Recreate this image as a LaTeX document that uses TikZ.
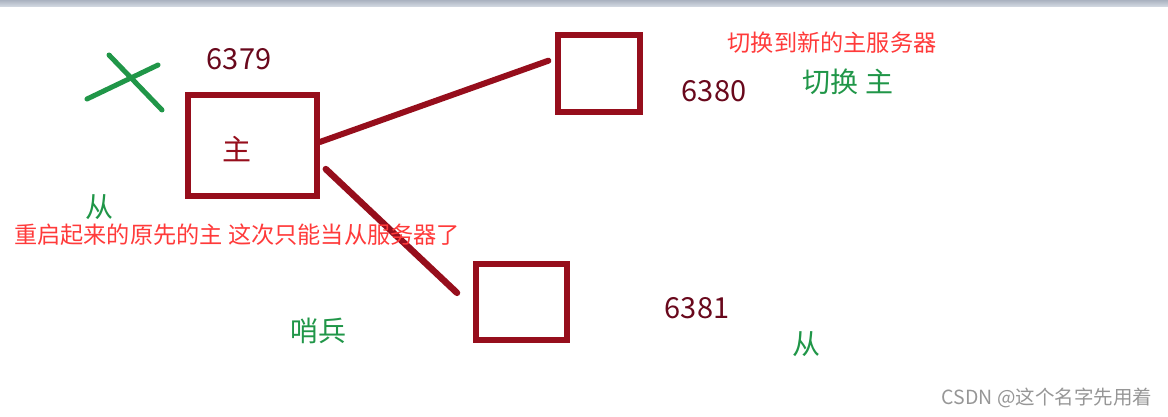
\documentclass[tikz,border=0pt]{standalone}
\usepackage{fontspec}
\setmainfont{Noto Sans CJK SC}
\definecolor{boxred}{RGB}{150,14,28}
\definecolor{portred}{RGB}{105,8,28}
\definecolor{notered}{RGB}{255,58,58}
\definecolor{markgreen}{RGB}{32,150,72}
\definecolor{markgrey}{RGB}{150,150,150}
\definecolor{barhigh}{RGB}{170,178,192}
\definecolor{barlow}{RGB}{214,220,228}
\tikzset{
  box/.style={draw=boxred, line width=6pt, inner sep=0pt},
  link/.style={draw=boxred, line width=6pt, line cap=round},
  port/.style={text=portred, inner sep=0pt, font=\fontsize{29}{32}\selectfont},
  note/.style={text=notered, inner sep=0pt, font=\fontsize{23.2}{27}\selectfont},
  tag/.style={text=markgreen, inner sep=0pt, font=\fontsize{28}{32}\selectfont},
}
\begin{document}
\begin{tikzpicture}[x=1pt,y=-1pt]
    \useasboundingbox (0,0) rectangle (1168,417);
    \fill[top color=barhigh, bottom color=barlow] (0,0) rectangle (1168,7);
    % servers
    \node[box, minimum width=129pt, minimum height=101pt] (m) at (252.5,145.5) {};
    \node[box, minimum width=82pt, minimum height=77pt] (s1) at (599,73.5) {};
    \node[box, minimum width=91pt, minimum height=76pt] (s2) at (521.5,302) {};
    \node[port, text=boxred] (mname) at (237,149) {主};
    \draw[link, shorten >=7pt] (m.3) -- (s1.161);
    \draw[link, line width=6.5pt, shorten <=8pt, shorten >=22pt] (m.-15.6) -- (s2.187);
    % ports
    \node[port] (p1) at (239,59) {6379};
    \node[port] (p2) at (714,91) {6380};
    \node[port] (p3) at (697,308) {6381};
    % green notes
    \draw[markgreen, line width=5pt, line cap=round] (87,99) -- (158,65);
    \draw[markgreen, line width=5pt, line cap=round] (109,55) -- (162,110);
    \node[tag] (old) at (99,207) {从};
    \node[tag] (sentinel) at (318,331) {哨兵};
    \node[tag] (switch) at (848,82) {切换 主};
    \node[tag] (slave) at (806,344) {从};
    % red notes
    \node[note] (n1) at (832,43) {切换到新的主服务器};
    \node[note, anchor=west] (n2) at (14,235) {重启起来的原先的主 这次只能当从服务器了};
    \node[text=markgrey, inner sep=0pt, font=\fontsize{19.5}{22}\selectfont] (wm) at (1047,398) {CSDN @这个名字先用着};
\end{tikzpicture}
\end{document}
